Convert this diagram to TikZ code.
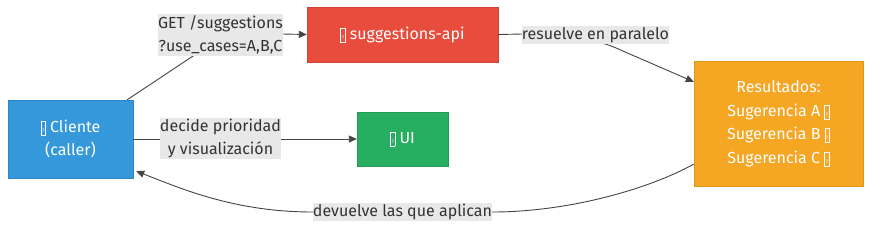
\documentclass[tikz,border=0pt]{standalone}
\usepackage{fontspec}
\setmainfont{Fira Sans}
\usetikzlibrary{arrows.meta,calc}
\definecolor{cblue}{HTML}{3498DB}
\definecolor{cblueb}{HTML}{2E86C8}
\definecolor{cred}{HTML}{E74C3C}
\definecolor{credb}{HTML}{D24436}
\definecolor{cgreen}{HTML}{27AE60}
\definecolor{cgreenb}{HTML}{229A55}
\definecolor{corange}{HTML}{F5A623}
\definecolor{corangeb}{HTML}{E0961C}
\definecolor{lblbg}{HTML}{E8E8E8}
\definecolor{lbltx}{HTML}{333333}
\definecolor{edgec}{HTML}{444444}
\newcommand\tofu{{\setlength\fboxsep{0.5pt}\setlength\fboxrule{0.6pt}\raisebox{-2pt}{\fbox{\rule{0pt}{12pt}\makebox[3pt]{\raisebox{2pt}{\fontsize{5}{5}\selectfont ?}}}}}}
\begin{document}
\begin{tikzpicture}[x=1pt,y=-1pt,
  box/.style={inner sep=0pt,text=white,align=center,font=\fontsize{16}{23.5}\selectfont},
  lbl/.style={fill=lblbg,text=lbltx,align=center,inner xsep=0pt,inner ysep=1pt,font=\fontsize{16}{23.5}\selectfont},
  edge/.style={draw=edgec,line width=0.9pt,-{Triangle[length=8pt,width=7pt]}}]
\useasboundingbox (0,0) rectangle (871,233);
\node[box,fill=cblue,draw=cblueb,minimum width=125pt,minimum height=78pt] (cli) at (70.5,139) {\tofu\ Cliente\\(caller)};
\node[box,fill=cred,draw=credb,minimum width=191pt,minimum height=55pt] (api) at (402.5,34.5) {\tofu\ suggestions-api};
\node[box,fill=cgreen,draw=cgreenb,minimum width=91pt,minimum height=54pt] (ui) at (402.5,139) {\tofu\ UI};
\node[box,fill=corange,draw=corangeb,minimum width=169pt,minimum height=125pt] (res) at (778.5,123.5) {Resultados:\\Sugerencia A \tofu\\Sugerencia B \tofu\\Sugerencia C \tofu};
\coordinate (l1) at (220.5,35);
\coordinate (l2) at (595.5,35);
\coordinate (l3) at (220.5,138.5);
\coordinate (l4) at (402.5,212);
% edges
\draw[edge] ([xshift=-6pt]cli.north east) -- ($(l1)+(-32,24)$) .. controls ($(l1)+(-5,6)$) and ($(l1)+(20,-1)$) .. ($(l1)+(62,-1)$) -- (api.west);
\draw[edge] (api.east) -- ($(l2)+(-73,-1)$) .. controls ($(l2)+(-30,-1)$) and ($(l2)+(5,5)$) .. ($(l2)+(25,15)$) -- ([yshift=-21pt]res.north west);
\draw[edge] (cli.east) -- (ui.west);
\draw[edge] ([yshift=22pt]res.south west) .. controls ($(l4)+(240,-20)$) and ($(l4)+(160,0)$) .. ($(l4)+(90,0)$) -- ($(l4)+(-90,0)$) .. controls ($(l4)+(-170,0)$) and ($(l4)+(-225,-25)$) .. ([xshift=3pt,yshift=7pt]cli.south east);
% labels
\node[lbl] (t1) at (l1) {GET /suggestions\\?use\_cases=A,B,C};
\node[lbl] (t2) at (l2) {resuelve en paralelo};
\node[lbl] (t3) at (l3) {decide prioridad\\y visualización};
\node[lbl] (t4) at (l4) {devuelve las que aplican};
\end{tikzpicture}
\end{document}
